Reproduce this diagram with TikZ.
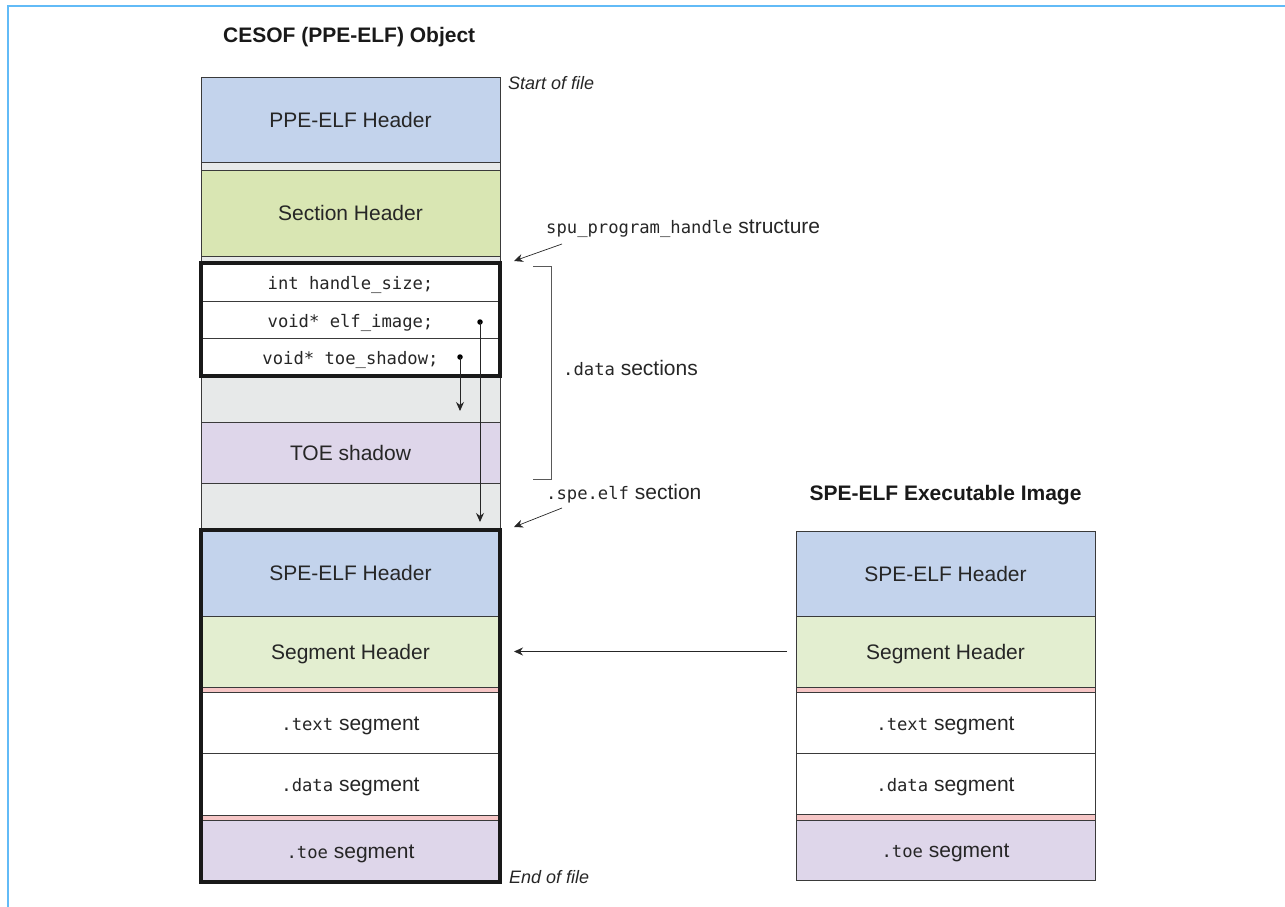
\documentclass[tikz,border=0pt]{standalone}
\usepackage{fontspec}
\setmainfont{Liberation Sans}
\newfontfamily\monof{DejaVu Sans Mono}
\usetikzlibrary{arrows.meta}
\definecolor{hdrblue}{HTML}{C3D3EC}
\definecolor{secgreen}{HTML}{D9E6B3}
\definecolor{seggreen}{HTML}{E3EED0}
\definecolor{gapgray}{HTML}{E7E9E9}
\definecolor{toepurple}{HTML}{DED6EA}
\definecolor{segpink}{HTML}{F6C6C6}
\definecolor{framecol}{HTML}{62BBF7}
\definecolor{linecol}{HTML}{3A3A3A}
\newcommand{\sansfs}{\fontsize{21}{25}\selectfont}
\newcommand{\mo}[1]{{\monof\fontsize{17.2}{20}\selectfont #1}}
\tikzset{
  band/.style={draw=linecol, line width=0.8pt, minimum width=299pt, inner sep=0pt, outer sep=0pt, font=\sansfs, text=black!85, text height=17pt, text depth=2pt},
  gapband/.style={draw=linecol, line width=0.8pt, minimum width=299pt, inner sep=0pt, outer sep=0pt},
  heavy/.style={draw=black!90, line width=3.5pt},
  ptr/.style={draw=black!85, line width=0.9pt, -{Stealth[length=9pt,width=8pt]}},
  lbl/.style={anchor=west, inner sep=0pt, font=\sansfs, text=black!85},
  edge/.style={anchor=west, inner sep=0pt, font=\fontsize{18}{22}\selectfont\itshape, text=black!85},
  ttl/.style={inner sep=0pt, font=\fontsize{21}{25}\selectfont\bfseries, text=black!90},
  dot/.style={circle, fill=black, inner sep=0pt, minimum size=5.5pt}
}
\begin{document}
\begin{tikzpicture}[x=1pt, y=-1pt]
\useasboundingbox (0,0) rectangle (1285,907);
% frame
\draw[framecol, line width=2.5pt] (8,907) -- (8,6) -- (1285,6);

% titles
\node[ttl, anchor=west] (t1) at (223,37) {CESOF (PPE-ELF) Object};
\node[ttl] (t2) at (945.5,495) {SPE-ELF Executable Image};

% left column
\node[band, fill=hdrblue, minimum height=85pt] (ppehdr) at (350.5,119.5) {PPE-ELF Header};
\node[gapband, fill=gapgray, minimum height=8pt] (gap1) at (350.5,166) {};
\node[band, fill=secgreen, minimum height=86pt] (sechdr) at (350.5,213) {Section Header};
\node[gapband, fill=gapgray, minimum height=7pt] (gap2) at (350.5,259.5) {};
\node[band, fill=white, minimum height=38pt] (hs) at (350.5,282) {\mo{int handle\_size;}};
\node[band, fill=white, minimum height=37pt] (ei) at (350.5,319.5) {\mo{void* elf\_image;}};
\node[band, fill=white, minimum height=38pt] (ts) at (350.5,357) {\mo{void* toe\_shadow;}};
\node[gapband, fill=gapgray, minimum height=46pt] (gap3) at (350.5,399) {};
\node[band, fill=toepurple, minimum height=61pt] (toeshadow) at (350.5,452.5) {TOE shadow};
\node[gapband, fill=gapgray, minimum height=47pt] (gap4) at (350.5,506.5) {};
\node[band, fill=hdrblue, minimum height=86pt] (spehdrL) at (350.5,573) {SPE-ELF Header};
\node[band, fill=seggreen, minimum height=71pt] (seghdrL) at (350.5,651.5) {Segment Header};
\node[gapband, fill=segpink, minimum height=5pt] (pinkL1) at (350.5,689.5) {};
\node[band, fill=white, minimum height=61pt] (textL) at (350.5,722.5) {\mo{.text} segment};
\node[band, fill=white, minimum height=62pt] (dataL) at (350.5,784) {\mo{.data} segment};
\node[gapband, fill=segpink, minimum height=5pt] (pinkL2) at (350.5,817.5) {};
\node[band, fill=toepurple, minimum height=62pt] (toeL) at (350.5,851) {\mo{.toe} segment};

\draw[heavy] (hs.north west) rectangle (ts.south east);
\draw[heavy] (spehdrL.north west) rectangle (toeL.south east);

% right column
\node[band, fill=hdrblue, minimum height=85pt] (spehdrR) at (945.5,573.5) {SPE-ELF Header};
\node[band, fill=seggreen, minimum height=71pt] (seghdrR) at (945.5,651.5) {Segment Header};
\node[gapband, fill=segpink, minimum height=5pt] (pinkR1) at (945.5,689.5) {};
\node[band, fill=white, minimum height=61pt] (textR) at (945.5,722.5) {\mo{.text} segment};
\node[band, fill=white, minimum height=61pt] (dataR) at (945.5,783.5) {\mo{.data} segment};
\node[gapband, fill=segpink, minimum height=6pt] (pinkR2) at (945.5,817) {};
\node[band, fill=toepurple, minimum height=60pt] (toeR) at (945.5,850) {\mo{.toe} segment};

% file edge labels
\node[edge] (sof) at (508,83) {Start of file};
\node[edge] (eof) at (509,877) {End of file};

% pointers
\node[dot] (d1) at (480,322) {};
\node[dot] (d2) at (460,357) {};
\coordinate (e1) at (480,522);
\coordinate (e2) at (460,411);
\draw[ptr] (d1.center) -- (e1);
\draw[ptr] (d2.center) -- (e2);

% annotations
\node[lbl] (spulbl) at (546,229) {\mo{spu\_program\_handle} structure};
\coordinate (a1s) at (562,244);
\coordinate (a1e) at (514,261);
\draw[ptr, line width=0.7pt] (a1s) -- (a1e);

\coordinate (b1) at (533,266);
\coordinate (b2) at (551,266);
\coordinate (b3) at (551,479);
\coordinate (b4) at (533,479);
\draw[draw=black!65, line width=0.9pt] (b1) -- (b2) -- (b3) -- (b4);
\node[lbl] (datalbl) at (563,368) {\mo{.data} sections};

\node[lbl] (spelbl) at (546,494) {\mo{.spe.elf} section};
\coordinate (a2s) at (562,508);
\coordinate (a2e) at (514,527);
\draw[ptr, line width=0.7pt] (a2s) -- (a2e);

% segment header link
\coordinate (h1) at ([xshift=-9pt]seghdrR.west);
\coordinate (h2) at ([xshift=14pt]seghdrL.east);
\draw[ptr, line width=0.8pt] (h1) -- (h2);
\end{tikzpicture}
\end{document}
